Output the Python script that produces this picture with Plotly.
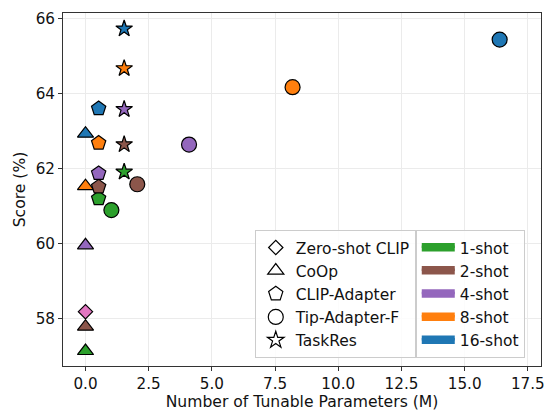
import plotly.graph_objects as go

# ---- data ----
shots = ["1-shot", "2-shot", "4-shot", "8-shot", "16-shot"]
shot_colors = ["#2ca02c", "#8c564b", "#9467bd", "#ff7f0e", "#1f77b4"]

zs_params = [0.0]
zs_score = [58.18]

coop_params = [0.0, 0.0, 0.0, 0.0, 0.0]
coop_score = [57.13, 57.78, 59.95, 61.53, 62.93]

clipad_params = [0.52, 0.52, 0.52, 0.52, 0.52]
clipad_score = [61.20, 61.51, 61.87, 62.68, 63.60]

tip_params = [1.024, 2.048, 4.096, 8.192, 16.384]
tip_score = [60.89, 61.58, 62.64, 64.17, 65.44]

taskres_params = [1.53, 1.53, 1.53, 1.53, 1.53]
taskres_score = [61.91, 62.64, 63.58, 64.67, 65.73]

methods = ["Zero-shot CLIP", "CoOp", "CLIP-Adapter", "Tip-Adapter-F", "TaskRes"]
zs_color = "#e377c2"

FONT = "DejaVu Sans"
symbols = {"Zero-shot CLIP": ("diamond", 11), "CoOp": ("triangle-up", 14),
           "CLIP-Adapter": ("pentagon", 15), "Tip-Adapter-F": ("circle", 15),
           "TaskRes": ("star", 12.5)}

fig = go.Figure()

def add_method(name, xs, ys, colors):
    sym, size = symbols[name]
    fig.add_trace(go.Scatter(
        x=xs, y=ys, mode="markers", showlegend=False, name=name,
        marker=dict(symbol=sym, size=size, color=colors,
                    line=dict(color="black", width=1.2)),
        cliponaxis=False,
    ))

add_method("CoOp", coop_params, coop_score, shot_colors)
add_method("CLIP-Adapter", clipad_params, clipad_score, shot_colors)
add_method("Tip-Adapter-F", tip_params, tip_score, shot_colors)
add_method("TaskRes", taskres_params, taskres_score, shot_colors)
add_method("Zero-shot CLIP", zs_params, zs_score, [zs_color])

# legend 1: methods (open symbols)
for m in methods:
    sym, size = symbols[m]
    fig.add_trace(go.Scatter(
        x=[None], y=[None], mode="markers", name=m, legend="legend",
        marker=dict(symbol=sym, size=size, color="white",
                    line=dict(color="black", width=1.2)),
    ))

# legend 2: shot colours (filled patches)
for s, c in zip(shots, shot_colors):
    fig.add_trace(go.Scatter(
        x=[None], y=[None], mode="lines", fill="toself", name=s,
        legend="legend2", fillcolor=c, line=dict(color=c, width=5),
    ))

axis_common = dict(
    showline=True, mirror=True, linecolor="#333", linewidth=1,
    ticks="outside", ticklen=4, tickcolor="#333", tickwidth=1,
    showgrid=True, gridcolor="#ebebeb", gridwidth=1, zeroline=False,
    tickfont=dict(family=FONT, size=15.2, color="#111"),
    automargin=False,
)

fig.update_layout(
    width=548, height=411,
    margin=dict(l=63, r=7, t=13, b=45),
    plot_bgcolor="white", paper_bgcolor="white",
    font=dict(family=FONT, size=15.5, color="#111"),
    xaxis=dict(range=[-0.89, 18.02], tick0=0, dtick=2.5, tickformat=".1f",
               title=dict(text="Number of Tunable Parameters (M)",
                          font=dict(family=FONT, size=15.6), standoff=2),
               **axis_common),
    yaxis=dict(range=[56.73, 66.15], tick0=58, dtick=2,
               title=dict(text="Score (%)", font=dict(family=FONT, size=15.6),
                          standoff=6),
               **axis_common),
    legend=dict(x=0.738, xanchor="right", y=0.023, yanchor="bottom",
                bgcolor="rgba(255,255,255,0.85)", bordercolor="#cccccc",
                borderwidth=1, font=dict(family=FONT, size=15.5),
                tracegroupgap=0),
    legend2=dict(x=0.738, xanchor="left", y=0.023, yanchor="bottom",
                 bgcolor="rgba(255,255,255,0.85)", bordercolor="#cccccc",
                 borderwidth=1, font=dict(family=FONT, size=15.5),
                 itemwidth=33, tracegroupgap=0),
)

fig.write_html("out.html",
               config={"displayModeBar": False},
               post_script="document.body.style.margin='0';"
                           "document.body.style.overflow='hidden';")
